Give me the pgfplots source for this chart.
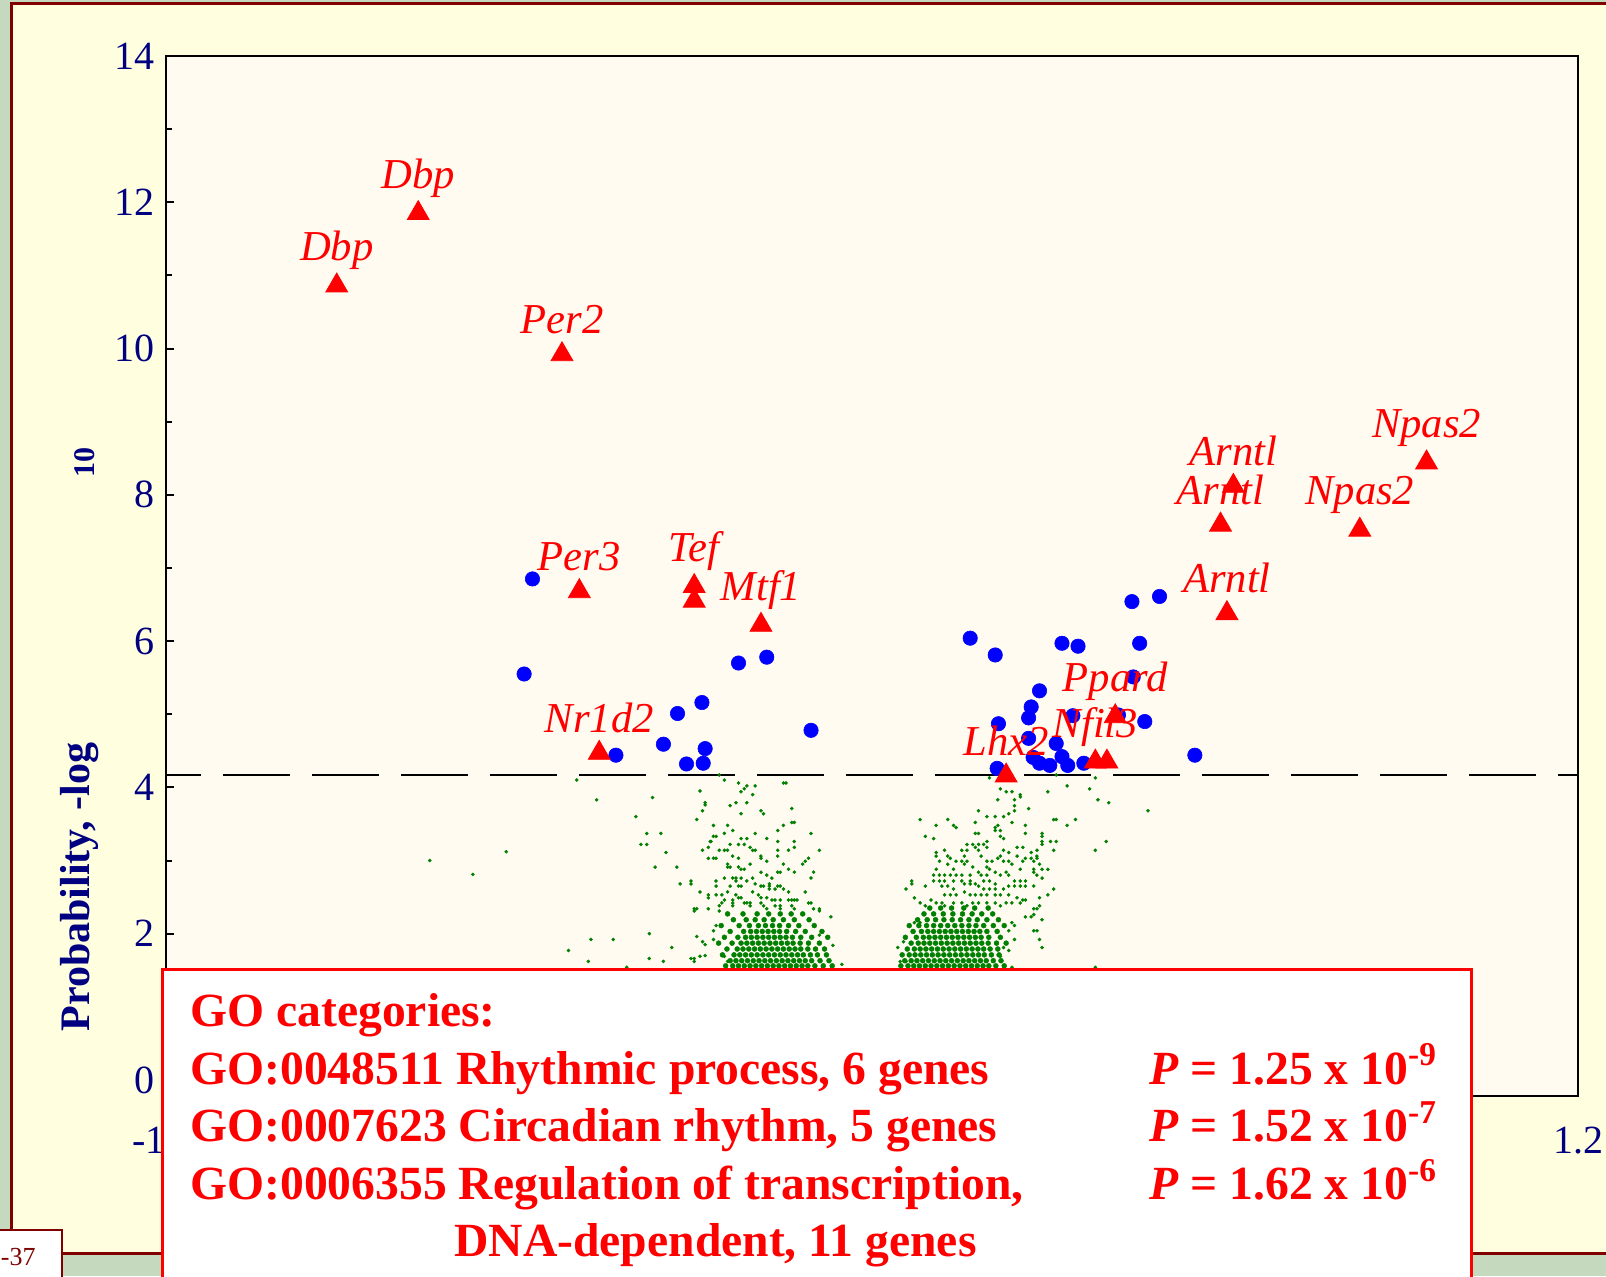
\documentclass[border=0pt]{standalone}
\usepackage{pgfplots}
\pgfplotsset{compat=1.18}
\usepackage{pgfplotstable}
\usepackage{fontspec}
\setmainfont{Liberation Serif}
\definecolor{texgreen}{RGB}{196,217,190}
\definecolor{panel}{RGB}{255,255,224}
\definecolor{plotbg}{RGB}{255,251,240}
\definecolor{darkred}{RGB}{128,0,0}
\definecolor{navy}{RGB}{0,0,128}
\definecolor{dotgreen}{RGB}{0,128,0}
\definecolor{pureblue}{RGB}{0,0,255}
\definecolor{purered}{RGB}{255,0,0}

\pgfplotstableread{
x y label
-0.734 10.86 Dbp
-0.607 11.85 Dbp
-0.383 9.92 Per2
-0.356 6.68 Per3
-0.177 6.75 Tef
-0.073 6.22 Mtf1
-0.325 4.47 Nr1d2
0.309 4.16 Lhx2
0.448 4.35 Nfil3
0.479 4.97 Ppard
0.663 8.12 Arntl
0.643 7.59 Arntl
0.653 6.38 Arntl
0.860 7.52 Npas2
0.964 8.44 Npas2
}\labeled

\pgfplotstableread{
x y
-0.177 6.55
0.466 4.35
}\unlabeled

\pgfplotstableread{
x y
-0.429 6.85
-0.442 5.55
-0.299 4.44
-0.225 4.59
-0.203 5.01
-0.165 5.16
-0.160 4.53
-0.163 4.33
-0.189 4.32
-0.108 5.70
-0.064 5.78
0.005 4.78
0.253 6.04
0.292 5.81
0.396 5.97
0.421 5.93
0.505 6.54
0.548 6.61
0.517 5.97
0.507 5.51
0.361 5.32
0.348 5.10
0.344 4.95
0.413 4.98
0.484 4.99
0.525 4.90
0.297 4.87
0.344 4.67
0.387 4.60
0.351 4.41
0.361 4.33
0.377 4.30
0.396 4.42
0.405 4.30
0.430 4.33
0.295 4.26
0.603 4.44
}\bluepts

\pgfplotstableread{
x y
-0.589 3.00
-0.522 2.81
-0.470 3.12
-0.360 4.10
-0.329 3.83
-0.242 3.86
-0.168 3.95
-0.160 3.79
-0.160 3.76
-0.164 3.68
-0.173 3.56
-0.268 3.60
-0.251 3.37
-0.229 3.37
-0.260 3.22
-0.251 3.22
-0.221 3.11
-0.238 2.91
-0.204 2.91
-0.182 2.72
-0.182 2.68
-0.199 2.68
-0.168 2.57
-0.155 2.49
-0.164 3.14
-0.155 3.18
-0.155 3.03
-0.152 3.26
-0.177 2.34
-0.173 2.34
-0.177 2.31
-0.155 2.34
-0.247 2.00
-0.338 1.92
-0.303 1.92
-0.373 1.77
-0.212 1.81
-0.173 1.96
-0.164 1.89
-0.160 1.85
-0.342 1.62
-0.247 1.66
-0.225 1.62
-0.182 1.66
-0.177 1.66
-0.177 1.62
-0.168 1.69
-0.282 1.54
-0.138 4.17
-0.130 4.10
-0.108 4.06
-0.095 4.02
-0.099 3.98
-0.104 3.94
-0.082 4.02
-0.086 3.90
-0.038 4.06
-0.034 4.06
-0.121 3.75
-0.112 3.79
-0.095 3.79
-0.104 3.64
-0.073 3.68
-0.069 3.64
-0.025 3.71
-0.025 3.52
-0.021 3.52
-0.038 3.48
-0.047 3.41
0.005 3.37
-0.147 3.48
-0.125 3.48
-0.130 3.37
-0.117 3.41
-0.082 3.37
-0.147 3.33
-0.143 3.33
-0.151 3.26
-0.104 3.30
-0.095 3.30
-0.108 3.22
-0.099 3.22
-0.064 3.30
-0.047 3.26
-0.021 3.26
-0.021 3.18
-0.047 3.14
-0.047 3.06
-0.030 3.14
0.018 3.14
-0.138 3.14
-0.130 3.14
-0.125 3.14
-0.121 3.22
-0.090 3.18
-0.086 3.14
-0.082 3.14
-0.073 3.06
-0.073 3.03
-0.117 3.06
-0.147 3.03
-0.143 3.03
-0.108 3.03
-0.064 2.99
-0.125 2.95
-0.121 2.91
-0.125 2.91
-0.090 2.95
-0.108 2.91
-0.104 2.88
-0.099 2.88
-0.038 2.95
-0.030 2.88
-0.021 2.84
-0.008 2.95
-0.004 2.99
0.001 3.03
0.009 2.84
-0.047 2.84
-0.043 2.84
-0.073 2.84
-0.064 2.80
-0.056 2.76
-0.130 2.76
-0.117 2.76
-0.112 2.76
-0.112 2.72
-0.104 2.76
-0.086 2.76
0.005 2.76
-0.143 2.72
-0.143 2.65
-0.095 2.72
-0.082 2.68
-0.121 2.65
-0.108 2.65
-0.104 2.65
-0.073 2.65
-0.069 2.65
-0.060 2.68
-0.060 2.65
-0.060 2.61
-0.051 2.61
-0.047 2.65
-0.043 2.65
-0.038 2.61
-0.030 2.57
-0.004 2.57
-0.155 2.53
-0.143 2.53
-0.134 2.53
-0.125 2.57
-0.112 2.53
-0.108 2.49
-0.104 2.49
-0.086 2.57
-0.077 2.53
-0.073 2.49
-0.064 2.49
-0.056 2.46
-0.051 2.46
-0.043 2.46
-0.030 2.46
-0.025 2.46
-0.021 2.46
-0.017 2.46
0.001 2.42
0.005 2.42
-0.138 2.38
-0.134 2.42
-0.130 2.46
-0.117 2.46
-0.117 2.42
-0.117 2.38
-0.099 2.42
-0.095 2.42
-0.090 2.42
-0.090 2.38
-0.073 2.42
-0.069 2.38
-0.064 2.34
-0.051 2.38
-0.043 2.38
-0.043 2.34
-0.025 2.38
-0.021 2.34
0.009 2.34
0.018 2.34
0.018 2.31
-0.138 2.31
0.039 1.84
0.036 2.23
0.053 1.58
0.018 1.98
-0.143 2.11
-0.147 2.04
-0.147 1.92
-0.130 1.69
-0.125 1.62
-0.160 1.70
0.283 4.13
0.300 3.98
0.309 3.94
0.318 3.94
0.331 3.90
0.296 3.83
0.322 3.83
0.322 3.75
0.344 3.71
0.266 3.68
0.322 3.68
0.313 3.64
0.279 3.60
0.292 3.60
0.305 3.60
0.175 3.56
0.218 3.56
0.261 3.52
0.318 3.52
0.200 3.48
0.227 3.48
0.231 3.45
0.292 3.45
0.296 3.48
0.300 3.41
0.292 3.41
0.339 3.48
0.261 3.37
0.266 3.37
0.183 3.33
0.196 3.30
0.300 3.33
0.305 3.30
0.339 3.37
0.279 3.26
0.248 3.22
0.257 3.22
0.266 3.22
0.274 3.22
0.240 3.14
0.248 3.14
0.261 3.18
0.266 3.14
0.279 3.18
0.200 3.11
0.213 3.14
0.305 3.14
0.313 3.11
0.326 3.18
0.335 3.18
0.200 3.06
0.218 3.06
0.222 3.03
0.244 3.06
0.270 3.06
0.296 3.03
0.300 3.06
0.326 3.06
0.231 2.99
0.240 2.99
0.244 2.95
0.248 2.99
0.205 2.99
0.279 2.99
0.287 2.99
0.305 2.99
0.313 2.99
0.318 2.95
0.335 2.99
0.339 3.03
0.218 2.95
0.257 2.91
0.279 2.91
0.283 2.88
0.331 2.88
0.200 2.88
0.227 2.88
0.196 2.80
0.205 2.80
0.213 2.80
0.222 2.80
0.231 2.80
0.240 2.80
0.253 2.80
0.266 2.84
0.270 2.80
0.279 2.80
0.292 2.84
0.300 2.80
0.309 2.84
0.313 2.80
0.322 2.72
0.331 2.72
0.339 2.72
0.196 2.72
0.205 2.72
0.213 2.72
0.227 2.72
0.240 2.72
0.253 2.72
0.274 2.72
0.283 2.72
0.292 2.68
0.162 2.72
0.162 2.68
0.153 2.61
0.183 2.65
0.209 2.65
0.218 2.65
0.227 2.61
0.244 2.68
0.253 2.68
0.261 2.68
0.266 2.65
0.274 2.61
0.283 2.61
0.292 2.61
0.305 2.61
0.313 2.65
0.322 2.65
0.331 2.65
0.339 2.65
0.166 2.49
0.213 2.53
0.222 2.53
0.231 2.53
0.244 2.57
0.253 2.53
0.261 2.53
0.270 2.53
0.279 2.53
0.292 2.53
0.300 2.53
0.313 2.53
0.326 2.49
0.335 2.46
0.175 2.42
0.183 2.38
0.192 2.46
0.200 2.42
0.209 2.42
0.213 2.38
0.227 2.42
0.240 2.42
0.248 2.38
0.257 2.42
0.266 2.42
0.279 2.42
0.292 2.42
0.300 2.38
0.309 2.42
0.318 2.42
0.331 2.42
0.339 2.46
0.339 2.23
0.166 2.15
0.175 2.15
0.140 1.81
0.149 1.89
0.318 2.15
0.322 2.11
0.313 2.04
0.322 1.92
0.305 1.81
0.313 1.77
0.300 1.69
0.144 1.62
0.153 1.62
0.318 1.54
0.387 4.17
0.448 4.13
0.404 4.02
0.439 3.98
0.374 3.94
0.331 3.87
0.452 3.83
0.469 3.79
0.530 3.68
0.383 3.56
0.387 3.56
0.417 3.56
0.404 3.48
0.365 3.37
0.365 3.33
0.365 3.26
0.365 3.22
0.378 3.26
0.387 3.26
0.465 3.26
0.357 3.14
0.383 3.14
0.448 3.14
0.348 3.11
0.357 3.06
0.357 3.03
0.348 3.03
0.352 2.99
0.361 2.95
0.352 2.88
0.365 2.88
0.374 2.88
0.352 2.84
0.357 2.80
0.365 2.76
0.352 2.65
0.383 2.61
0.374 2.53
0.361 2.49
0.361 2.38
0.352 2.34
0.357 2.34
0.352 2.26
0.348 2.23
0.365 2.19
0.352 2.04
0.357 2.04
0.361 1.92
0.365 1.81
0.448 1.54
}\greensparse

\pgfplotstableread{
x y
-0.128 1.56
-0.117 1.56
-0.108 1.56
-0.099 1.56
-0.090 1.56
-0.081 1.56
-0.072 1.56
-0.063 1.56
-0.054 1.56
-0.045 1.56
-0.036 1.56
-0.027 1.56
-0.018 1.56
-0.009 1.56
0.000 1.56
0.011 1.56
0.024 1.56
0.038 1.56
-0.121 1.63
-0.112 1.63
-0.103 1.63
-0.094 1.63
-0.085 1.63
-0.076 1.63
-0.067 1.63
-0.058 1.63
-0.049 1.63
-0.040 1.63
-0.031 1.63
-0.022 1.63
-0.013 1.63
-0.004 1.63
0.006 1.63
0.019 1.63
0.033 1.63
-0.133 1.71
-0.115 1.71
-0.106 1.71
-0.097 1.71
-0.088 1.71
-0.079 1.71
-0.070 1.71
-0.061 1.71
-0.052 1.71
-0.043 1.71
-0.034 1.71
-0.025 1.71
-0.016 1.71
-0.007 1.71
0.004 1.71
0.015 1.71
0.029 1.71
-0.126 1.79
-0.110 1.79
-0.101 1.79
-0.092 1.79
-0.083 1.79
-0.074 1.79
-0.065 1.79
-0.056 1.79
-0.047 1.79
-0.038 1.79
-0.029 1.79
-0.020 1.79
-0.011 1.79
0.000 1.79
0.012 1.79
0.026 1.79
-0.139 1.87
-0.118 1.87
-0.104 1.87
-0.095 1.87
-0.086 1.87
-0.077 1.87
-0.068 1.87
-0.059 1.87
-0.050 1.87
-0.041 1.87
-0.032 1.87
-0.023 1.87
-0.012 1.87
0.001 1.87
0.018 1.87
-0.130 1.95
-0.109 1.95
-0.097 1.95
-0.088 1.95
-0.079 1.95
-0.070 1.95
-0.061 1.95
-0.052 1.95
-0.043 1.95
-0.034 1.95
-0.024 1.95
-0.011 1.95
0.006 1.95
0.031 1.95
-0.121 2.03
-0.100 2.03
-0.089 2.03
-0.080 2.03
-0.071 2.03
-0.062 2.03
-0.053 2.03
-0.044 2.03
-0.033 2.03
-0.019 2.03
-0.004 2.03
0.022 2.03
-0.135 2.11
-0.107 2.11
-0.091 2.11
-0.077 2.11
-0.066 2.11
-0.055 2.11
-0.044 2.11
-0.030 2.11
-0.014 2.11
0.010 2.11
-0.116 2.19
-0.096 2.19
-0.082 2.19
-0.068 2.19
-0.054 2.19
-0.038 2.19
-0.021 2.19
0.002 2.19
-0.125 2.27
-0.101 2.27
-0.079 2.27
-0.061 2.27
-0.043 2.27
-0.026 2.27
-0.008 2.27
0.145 1.56
0.156 1.56
0.165 1.56
0.174 1.56
0.183 1.56
0.192 1.56
0.201 1.56
0.210 1.56
0.219 1.56
0.228 1.56
0.237 1.56
0.246 1.56
0.255 1.56
0.264 1.56
0.273 1.56
0.282 1.56
0.293 1.56
0.306 1.56
0.151 1.63
0.161 1.63
0.170 1.63
0.179 1.63
0.188 1.63
0.197 1.63
0.206 1.63
0.215 1.63
0.224 1.63
0.233 1.63
0.242 1.63
0.251 1.63
0.260 1.63
0.269 1.63
0.278 1.63
0.289 1.63
0.301 1.63
0.147 1.71
0.158 1.71
0.167 1.71
0.176 1.71
0.185 1.71
0.194 1.71
0.203 1.71
0.212 1.71
0.221 1.71
0.230 1.71
0.239 1.71
0.248 1.71
0.257 1.71
0.266 1.71
0.275 1.71
0.286 1.71
0.298 1.71
0.155 1.79
0.166 1.79
0.175 1.79
0.184 1.79
0.193 1.79
0.202 1.79
0.211 1.79
0.220 1.79
0.229 1.79
0.238 1.79
0.247 1.79
0.256 1.79
0.265 1.79
0.274 1.79
0.284 1.79
0.296 1.79
0.161 1.87
0.172 1.87
0.181 1.87
0.190 1.87
0.199 1.87
0.208 1.87
0.217 1.87
0.226 1.87
0.235 1.87
0.244 1.87
0.253 1.87
0.262 1.87
0.271 1.87
0.281 1.87
0.294 1.87
0.309 1.87
0.152 1.95
0.169 1.95
0.180 1.95
0.189 1.95
0.198 1.95
0.207 1.95
0.216 1.95
0.225 1.95
0.234 1.95
0.243 1.95
0.252 1.95
0.261 1.95
0.270 1.95
0.282 1.95
0.300 1.95
0.164 2.03
0.177 2.03
0.187 2.03
0.196 2.03
0.205 2.03
0.214 2.03
0.223 2.03
0.232 2.03
0.241 2.03
0.250 2.03
0.259 2.03
0.268 2.03
0.279 2.03
0.295 2.03
0.158 2.11
0.173 2.11
0.185 2.11
0.196 2.11
0.207 2.11
0.218 2.11
0.229 2.11
0.240 2.11
0.251 2.11
0.262 2.11
0.274 2.11
0.289 2.11
0.306 2.11
0.171 2.19
0.186 2.19
0.199 2.19
0.212 2.19
0.225 2.19
0.238 2.19
0.251 2.19
0.264 2.19
0.279 2.19
0.297 2.19
0.181 2.27
0.196 2.27
0.211 2.27
0.226 2.27
0.241 2.27
0.256 2.27
0.271 2.27
0.288 2.27
0.190 2.35
0.207 2.35
0.224 2.35
0.243 2.35
0.260 2.35
0.281 2.35
}\greencore

\begin{document}
\begin{tikzpicture}
\path[use as bounding box] (0,0) rectangle (803pt,638pt);
\clip (0,0) rectangle (803pt,638pt);
\fill[texgreen] (0,0) rectangle (803pt,638pt);
\draw[darkred, line width=1.5pt, fill=panel] (5.5pt,11.5pt) rectangle (830pt,636pt);
\begin{axis}[
  at={(83pt,90pt)}, anchor=south west, scale only axis,
  width=706pt, height=520pt,
  xmin=-1, xmax=1.2, ymin=-0.22, ymax=14,
  axis background/.style={fill=plotbg},
  axis line style={black, line width=1pt},
  ytick={0,2,...,14}, minor ytick={1,3,...,13},
  ytick pos=left, tick align=inside,
  major tick length=4pt, minor tick length=3pt,
  tick style={black, line width=1pt},
  xtick={-1,1.2}, xticklabels={{-1\hphantom{-1}},{1.2}},
  x tick style={draw=none},
  /pgf/number format/assume math mode=true,
  ticklabel style={font=\fontsize{20}{24}\selectfont, text=navy},
  xticklabel style={yshift=-12pt},
  yticklabel style={xshift=-2pt},
]
\addplot[black, line width=1pt, dash pattern=on 33.5pt off 11pt, dash phase=16pt] coordinates {(-1,4.17) (1.2,4.17)};
\addplot[only marks, mark=*, color=dotgreen, mark size=0.8pt, line width=0.2pt] table {\greensparse};
\addplot[only marks, mark=*, color=dotgreen, mark size=1.25pt, line width=0.2pt] table {\greencore};
\addplot[only marks, mark=*, color=pureblue, mark size=3.6pt, line width=0.3pt] table {\bluepts};
\addplot[only marks, mark=triangle*, color=purered, mark size=6.3pt, line width=0.4pt] table {\unlabeled};
\addplot[only marks, mark=triangle*, color=purered, mark size=6.3pt, line width=0.4pt,
  point meta=explicit symbolic, nodes near coords,
  every node near coord/.append style={anchor=center, yshift=17.5pt, text=purered, font=\itshape\fontsize{21.3}{25}\selectfont}]
  table[meta=label] {\labeled};
\end{axis}
\node[rotate=90, text=navy, font=\bfseries\fontsize{21}{25}\selectfont] at (40pt,194.5pt) {Probability, -log};
\node[rotate=90, text=navy, font=\bfseries\fontsize{15}{18}\selectfont] at (42.5pt,406.5pt) {10};
\draw[purered, line width=1.5pt, fill=white] (81pt,-10pt) rectangle (735.5pt,153.5pt);
\begin{scope}[every node/.style={anchor=base west, inner sep=0pt, text=purered, font=\bfseries\fontsize{23.8}{28}\selectfont}]
\node at (95pt,124.65pt) {GO categories:};
\node at (95pt,96pt) {GO:0048511 Rhythmic process, 6 genes};
\node at (95pt,67.15pt) {GO:0007623 Circadian rhythm, 5 genes};
\node at (95pt,38.35pt) {GO:0006355 Regulation of transcription,};
\node at (227pt,10pt) {DNA-dependent, 11 genes};
\node at (574.5pt,96pt) {\textit{P} = 1.25 x 10\textsuperscript{-9}};
\node at (574.5pt,67.15pt) {\textit{P} = 1.52 x 10\textsuperscript{-7}};
\node at (574.5pt,38.35pt) {\textit{P} = 1.62 x 10\textsuperscript{-6}};
\end{scope}
\draw[darkred, line width=1pt, fill=white] (-5pt,-5pt) rectangle (30.8pt,23pt);
\node[anchor=base east, inner sep=0pt, text=darkred, font=\fontsize{13}{15}\selectfont] at (18pt,5.5pt) {-37};
\end{tikzpicture}
\end{document}
